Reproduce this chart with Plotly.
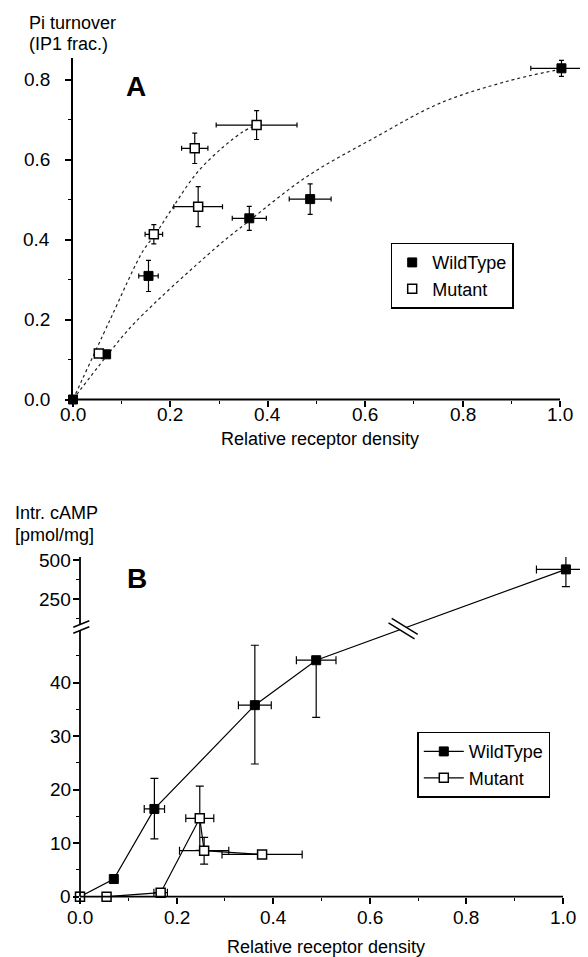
import plotly.graph_objects as go

FONT = "Liberation Sans, Arial, Helvetica, sans-serif"
PAGE_W, PAGE_H = 588, 957
OFF = 8                       # default page margin around the figure
W, H = PAGE_W - OFF, PAGE_H - OFF

# ---------------- Panel A : Pi turnover (IP1 fraction) ----------------
A_WT_X     = [0.000, 0.068, 0.155, 0.362, 0.487, 1.003]
A_WT_Y     = [0.000, 0.113, 0.309, 0.453, 0.501, 0.828]
A_WT_XERR  = [0.000, 0.006, 0.020, 0.035, 0.043, 0.063]
A_WT_YERR  = [0.000, 0.006, 0.039, 0.030, 0.038, 0.020]

A_MUT_X    = [0.053, 0.166, 0.250, 0.257, 0.377]
A_MUT_Y    = [0.115, 0.413, 0.628, 0.482, 0.686]
A_MUT_XERR = [0.008, 0.018, 0.027, 0.050, 0.083]
A_MUT_YERR = [0.005, 0.024, 0.038, 0.050, 0.036]

# fitted curves
A_WT_FIT_X  = [0.0, 0.068, 0.127, 0.292, 0.360, 0.480, 0.617, 0.754, 0.890, 0.990]
A_WT_FIT_Y  = [0.0, 0.107, 0.192, 0.378, 0.445, 0.557, 0.653, 0.741, 0.795, 0.823]
A_MUT_FIT_X = [0.0, 0.076, 0.144, 0.168, 0.206, 0.254, 0.309, 0.350, 0.375]
A_MUT_FIT_Y = [0.0, 0.199, 0.372, 0.411, 0.482, 0.566, 0.632, 0.670, 0.686]

A_XTICKS = [0.0, 0.2, 0.4, 0.6, 0.8, 1.0]
A_YTICKS = [0.0, 0.2, 0.4, 0.6, 0.8]

# ---------------- Panel B : intracellular cAMP ----------------
B_WT_X       = [0.000, 0.070, 0.154, 0.362, 0.489, 1.006]
B_WT_Y       = [0.0, 3.3, 16.4, 35.8, 44.2, 440.0]
B_WT_XERR    = [0.0, 0.0, 0.021, 0.034, 0.041, 0.061]
B_WT_YERR_UP = [0.0, 0.0, 5.7, 11.2, 0.0, 120.0]
B_WT_YERR_DN = [0.0, 0.0, 5.6, 11.0, 10.7, 111.0]

B_MUT_X    = [0.000, 0.055, 0.167, 0.248, 0.257, 0.377]
B_MUT_Y    = [0.0, 0.0, 0.75, 14.65, 8.6, 7.9]
B_MUT_XERR = [0.0, 0.006, 0.014, 0.029, 0.051, 0.083]
B_MUT_YERR = [0.0, 0.0, 0.6, 6.0, 2.5, 0.5]

B_XTICKS       = [0.0, 0.2, 0.4, 0.6, 0.8, 1.0]
B_YTICKS       = [0, 10, 20, 30, 40, 250, 500]
B_YTICKS_MINOR = [5, 15, 25, 35, 45, 125, 375]

# ---------------- broken y axis of panel B ----------------
LOW_MAX = 50.0          # values above this are drawn on the compressed upper segment
UP_OFFSET = 48.35
UP_SCALE = 0.02916


def brk(v):
    return v if v <= LOW_MAX else UP_OFFSET + UP_SCALE * v


def brk_list(vals):
    return [brk(v) for v in vals]


# ---------------- layout geometry (page pixels) ----------------
A_X0, A_XPX, A_XMAX = 73.0, 487.0, 1.055
A_Y0, A_YPX, A_YMAX = 399.5, 400.0, 0.855
B_X0, B_XPX, B_XMAX = 80.0, 483.0, 1.05
B_Y0, B_YPX, B_YMAX = 896.7, 5.35, 63.5

LINE_W = 1.8
BLACK = "black"
TICK_SIZE = 19
TEXT_SIZE = 18


def px(xp):
    return (xp - OFF) / W


def py(yp):
    return (PAGE_H - yp) / H


fig = go.Figure()

# ---- Panel A traces ----
fig.add_trace(go.Scatter(x=A_WT_FIT_X, y=A_WT_FIT_Y, mode="lines",
                         line=dict(color="#222", width=1.2, dash="dot", shape="spline"),
                         showlegend=False, hoverinfo="skip", xaxis="x", yaxis="y"))
fig.add_trace(go.Scatter(x=A_MUT_FIT_X, y=A_MUT_FIT_Y, mode="lines",
                         line=dict(color="#222", width=1.2, dash="dot", shape="spline"),
                         showlegend=False, hoverinfo="skip", xaxis="x", yaxis="y"))
fig.add_trace(go.Scatter(
    x=A_WT_X, y=A_WT_Y, mode="markers", name="WildType", legend="legend", legendrank=1,
    marker=dict(symbol="square", size=9, color=BLACK, line=dict(color=BLACK, width=1)),
    error_x=dict(type="data", array=A_WT_XERR, color=BLACK, thickness=1.2, width=2.5),
    error_y=dict(type="data", array=A_WT_YERR, color=BLACK, thickness=1.2, width=2.5),
    cliponaxis=False, xaxis="x", yaxis="y"))
fig.add_trace(go.Scatter(
    x=A_MUT_X, y=A_MUT_Y, mode="markers", name="Mutant", legend="legend", legendrank=2,
    marker=dict(symbol="square", size=9, color="white", line=dict(color=BLACK, width=1.5)),
    error_x=dict(type="data", array=A_MUT_XERR, color=BLACK, thickness=1.2, width=2.5),
    error_y=dict(type="data", array=A_MUT_YERR, color=BLACK, thickness=1.2, width=2.5),
    cliponaxis=False, xaxis="x", yaxis="y"))

# ---- Panel B traces ----
b_wt_y = brk_list(B_WT_Y)
b_wt_up = [brk(y + e) - brk(y) for y, e in zip(B_WT_Y, B_WT_YERR_UP)]
b_wt_dn = [brk(y) - brk(y - e) for y, e in zip(B_WT_Y, B_WT_YERR_DN)]
b_mut_y = brk_list(B_MUT_Y)
b_mut_up = [brk(y + e) - brk(y) for y, e in zip(B_MUT_Y, B_MUT_YERR)]
b_mut_dn = [brk(y) - brk(y - e) for y, e in zip(B_MUT_Y, B_MUT_YERR)]

fig.add_trace(go.Scatter(
    x=B_WT_X, y=b_wt_y, mode="lines+markers", name="WildType", legend="legend2", legendrank=1,
    line=dict(color=BLACK, width=1.2),
    marker=dict(symbol="square", size=9, color=BLACK, line=dict(color=BLACK, width=1)),
    error_x=dict(type="data", array=B_WT_XERR, color=BLACK, thickness=1.2, width=4),
    error_y=dict(type="data", array=b_wt_up, arrayminus=b_wt_dn, symmetric=False,
                 color=BLACK, thickness=1.2, width=4),
    cliponaxis=False, xaxis="x2", yaxis="y2"))
fig.add_trace(go.Scatter(
    x=B_MUT_X, y=b_mut_y, mode="lines+markers", name="Mutant", legend="legend2", legendrank=2,
    line=dict(color=BLACK, width=1.2),
    marker=dict(symbol="square", size=9, color="white", line=dict(color=BLACK, width=1.5)),
    error_x=dict(type="data", array=B_MUT_XERR, color=BLACK, thickness=1.2, width=4),
    error_y=dict(type="data", array=b_mut_up, arrayminus=b_mut_dn, symmetric=False,
                 color=BLACK, thickness=1.2, width=4),
    cliponaxis=False, xaxis="x2", yaxis="y2"))


def dom_x(x0, xpx, xmax):
    return [px(x0), px(x0 + xpx * xmax)]


def dom_y(y0, ypx, ymax):
    return [py(y0), py(y0 - ypx * ymax)]


common_axis = dict(showgrid=False, zeroline=False, ticks="outside", ticklen=6, tickwidth=1.5,
                   tickcolor=BLACK, showticklabels=False, linecolor=BLACK, linewidth=LINE_W,
                   automargin=False)
minor_lin = dict(ticks="outside", ticklen=3, tickwidth=1.2, tickcolor=BLACK, dtick=0.1, tick0=0)

fig.update_layout(
    template="none",
    width=W, height=H, autosize=False,
    margin=dict(l=0, r=0, t=0, b=0, pad=0),
    paper_bgcolor="white", plot_bgcolor="white",
    font=dict(family=FONT, size=TEXT_SIZE, color=BLACK),
    xaxis=dict(domain=dom_x(A_X0, A_XPX, A_XMAX), range=[0, A_XMAX], anchor="y",
               tickvals=A_XTICKS, showline=False, minor=minor_lin, **common_axis),
    yaxis=dict(domain=dom_y(A_Y0, A_YPX, A_YMAX), range=[0, A_YMAX], anchor="x",
               tickvals=A_YTICKS, showline=True, minor=minor_lin, **common_axis),
    xaxis2=dict(domain=dom_x(B_X0, B_XPX, B_XMAX), range=[0, B_XMAX], anchor="y2",
                tickvals=B_XTICKS, showline=False, minor=minor_lin, **common_axis),
    yaxis2=dict(domain=dom_y(B_Y0, B_YPX, B_YMAX), range=[0, B_YMAX], anchor="x2",
                tickmode="array", tickvals=brk_list(B_YTICKS), showline=False,
                minor=dict(ticks="outside", ticklen=3, tickwidth=1.2, tickcolor=BLACK,
                           tickmode="array", tickvals=brk_list(B_YTICKS_MINOR)),
                **common_axis),
    legend=dict(x=px(390.7), y=py(242.7), xanchor="left", yanchor="top",
                bgcolor="white", bordercolor=BLACK, borderwidth=1.5,
                font=dict(family=FONT, size=TEXT_SIZE, color=BLACK), itemwidth=30, tracegroupgap=0),
    legend2=dict(x=px(417.3), y=py(731.7), xanchor="left", yanchor="top",
                 bgcolor="white", bordercolor=BLACK, borderwidth=1.5,
                 font=dict(family=FONT, size=TEXT_SIZE, color=BLACK), itemwidth=40, tracegroupgap=0),
)

shapes = []
# panel A x-axis line (ends at 1.0)
shapes.append(dict(type="line", xref="x domain", yref="y domain", x0=0, x1=1.0 / A_XMAX, y0=0, y1=0,
                   line=dict(color=BLACK, width=LINE_W)))
# panel B x-axis line
shapes.append(dict(type="line", xref="x2 domain", yref="y2 domain", x0=0, x1=1.0 / B_XMAX, y0=0, y1=0,
                   line=dict(color=BLACK, width=LINE_W)))
# panel B y-axis, two segments around the break
AX_LOW_END, AX_UP_START = 49.77, 50.88
shapes.append(dict(type="line", xref="x2 domain", yref="y2", x0=0, x1=0, y0=0, y1=AX_LOW_END,
                   line=dict(color=BLACK, width=LINE_W)))
shapes.append(dict(type="line", xref="x2 domain", yref="y2", x0=0, x1=0, y0=AX_UP_START, y1=B_YMAX,
                   line=dict(color=BLACK, width=LINE_W)))
# slash marks on the y axis
b_plot_w = B_XPX * B_XMAX
for ya, yb in [(49.24, 50.47), (50.36, 51.59)]:
    shapes.append(dict(type="line", xref="x2 domain", yref="y2",
                       x0=-6.7 / b_plot_w, x1=9.3 / b_plot_w, y0=ya, y1=yb,
                       line=dict(color=BLACK, width=1.5)))

# slash marks on the wild-type line between the two scale segments
BRK_X = 0.669
xa, xb = B_WT_X[4], B_WT_X[5]
ya_, yb_ = b_wt_y[4], b_wt_y[5]
brk_y = ya_ + (BRK_X - xa) / (xb - xa) * (yb_ - ya_)
hx, hy = 13.0 / B_XPX, -8.0 / B_YPX      # half length of a slash
ox, oy = 1.6 / B_XPX, 2.2 / B_YPX        # half separation of the two slashes
p1 = (BRK_X + ox - hx, brk_y + oy - hy)
p2 = (BRK_X + ox + hx, brk_y + oy + hy)
p3 = (BRK_X - ox + hx, brk_y - oy + hy)
p4 = (BRK_X - ox - hx, brk_y - oy - hy)
shapes.append(dict(type="path", xref="x2", yref="y2",
                   path=f"M{p1[0]},{p1[1]} L{p2[0]},{p2[1]} L{p3[0]},{p3[1]} L{p4[0]},{p4[1]} Z",
                   fillcolor="white", line=dict(width=0), layer="above"))
shapes.append(dict(type="line", xref="x2", yref="y2", x0=p1[0], y0=p1[1], x1=p2[0], y1=p2[1],
                   line=dict(color=BLACK, width=1.5), layer="above"))
shapes.append(dict(type="line", xref="x2", yref="y2", x0=p4[0], y0=p4[1], x1=p3[0], y1=p3[1],
                   line=dict(color=BLACK, width=1.5), layer="above"))
fig.update_layout(shapes=shapes)


def ann(text, xpx, ypx, size=TEXT_SIZE, xanchor="left", bold=False):
    return dict(text=(f"<b>{text}</b>" if bold else text), x=px(xpx), y=py(ypx),
                xref="paper", yref="paper", xanchor=xanchor, yanchor="middle",
                showarrow=False, font=dict(family=FONT, size=size, color=BLACK))


tickfont = dict(family=FONT, size=TICK_SIZE, color=BLACK)
annotations = [
    ann("Pi turnover", 27, 23),
    ann("(IP1 frac.)", 27, 44),
    ann("A", 136, 86, size=28, xanchor="center", bold=True),
    ann("Relative receptor density", 320, 439, xanchor="center"),
    ann("Intr. cAMP", 13, 513),
    ann("[pmol/mg]", 13, 535),
    ann("B", 137, 578, size=28, xanchor="center", bold=True),
    ann("Relative receptor density", 326, 947, xanchor="center"),
]
# tick labels placed through the axes
for v in A_XTICKS:
    annotations.append(dict(text=f"{v:.1f}", x=v, xref="x", y=py(414), yref="paper",
                            xanchor="center", yanchor="middle", showarrow=False, font=tickfont))
for v in A_YTICKS:
    annotations.append(dict(text=f"{v:.1f}", x=px(52), xref="paper", y=v, yref="y",
                            xanchor="right", yanchor="middle", showarrow=False, font=tickfont))
for v in B_XTICKS:
    annotations.append(dict(text=f"{v:.1f}", x=v, xref="x2", y=py(917.5), yref="paper",
                            xanchor="center", yanchor="middle", showarrow=False, font=tickfont))
for v in B_YTICKS:
    annotations.append(dict(text=str(v), x=px(73), xref="paper", y=brk(v), yref="y2",
                            xanchor="right", yanchor="middle", showarrow=False, font=tickfont))
fig.update_layout(annotations=annotations)

fig.write_html("out.html")
